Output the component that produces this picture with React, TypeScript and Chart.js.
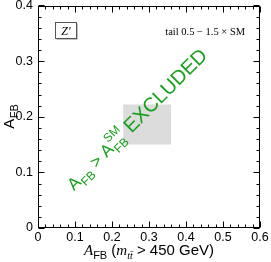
import React, { useEffect, useRef } from 'react';
import { Chart, registerables } from 'chart.js';

Chart.register(...registerables);

// ---- data ----
const xRange = [0, 0.6];
const yRange = [0, 0.4];
const xMajorTicks = [0, 0.1, 0.2, 0.3, 0.4, 0.5, 0.6];
const yMajorTicks = [0, 0.1, 0.2, 0.3, 0.4];
const minorStep = 0.02;
const boxX = [0.23, 0.36];
const boxY = [0.15, 0.222];
const pointX = [0.295];
const pointY = [0.187];
const zBoxX = [0.046, 0.103];
const zBoxY = [0.341, 0.37];
const zLabel = 'Z′';
const tailLabel = 'tail 0.5 − 1.5 × SM';
const tailPos = [0.344, 0.352];
const greenAnchor = [0.097, 0.066];
const greenColor = '#17a01b';
const boxColor = '#dcdcdc';

const SANS = '"Liberation Sans", Arial, Helvetica, sans-serif';
const SERIF = '"Liberation Serif", "Times New Roman", serif';

function fmt(v: number) {
  const r = Math.round(v * 10) / 10;
  return r === 0 ? '0' : r.toFixed(1);
}

const decorPlugin = {
  id: 'decor',
  afterDatasetsDraw(chart: any) {
    const { ctx, chartArea: a, scales } = chart;
    const xs = scales.x;
    const ys = scales.y;
    ctx.save();
    // frame
    ctx.strokeStyle = '#000';
    ctx.lineWidth = 1;
    const L = Math.round(a.left) + 0.5;
    const R = Math.round(a.right) - 0.5;
    const T = Math.round(a.top) + 0.5;
    const B = Math.round(a.bottom) - 0.5;
    ctx.strokeRect(L, T, R - L, B - T);
    // ticks
    const major = 6;
    const minor = 3;
    ctx.beginPath();
    for (let v = xRange[0]; v <= xRange[1] + 1e-9; v += minorStep) {
      const isMajor = xMajorTicks.some((m) => Math.abs(m - v) < 1e-6);
      const len = isMajor ? major : minor;
      const px = Math.round(xs.getPixelForValue(v)) + 0.5;
      ctx.moveTo(px, B);
      ctx.lineTo(px, B - len);
      ctx.moveTo(px, T);
      ctx.lineTo(px, T + len);
    }
    for (let v = yRange[0]; v <= yRange[1] + 1e-9; v += minorStep) {
      const isMajor = yMajorTicks.some((m) => Math.abs(m - v) < 1e-6);
      const len = isMajor ? major : minor;
      const py = Math.round(ys.getPixelForValue(v)) + 0.5;
      ctx.moveTo(L, py);
      ctx.lineTo(L + len, py);
      ctx.moveTo(R, py);
      ctx.lineTo(R - len, py);
    }
    ctx.stroke();

    // Z' box
    const bx0 = Math.round(xs.getPixelForValue(zBoxX[0])) + 0.5;
    const bx1 = Math.round(xs.getPixelForValue(zBoxX[1])) + 0.5;
    const by0 = Math.round(ys.getPixelForValue(zBoxY[1])) + 0.5;
    const by1 = Math.round(ys.getPixelForValue(zBoxY[0])) + 0.5;
    ctx.fillStyle = '#888';
    ctx.fillRect(bx0 + 1, by0 + 1, bx1 - bx0, by1 - by0);
    ctx.fillStyle = '#fff';
    ctx.fillRect(bx0, by0, bx1 - bx0, by1 - by0);
    ctx.strokeStyle = '#555';
    ctx.strokeRect(bx0, by0, bx1 - bx0, by1 - by0);
    ctx.fillStyle = '#000';
    ctx.font = `italic 12px ${SERIF}`;
    ctx.textAlign = 'center';
    ctx.textBaseline = 'middle';
    ctx.fillText(zLabel, (bx0 + bx1) / 2, (by0 + by1) / 2 + 1);

    // tail label
    ctx.font = `10.5px ${SERIF}`;
    ctx.textAlign = 'left';
    ctx.textBaseline = 'middle';
    ctx.fillText(tailLabel, xs.getPixelForValue(tailPos[0]), ys.getPixelForValue(tailPos[1]));

    // green rotated text
    ctx.save();
    ctx.translate(xs.getPixelForValue(greenAnchor[0]), ys.getPixelForValue(greenAnchor[1]));
    ctx.rotate(-Math.PI / 4);
    ctx.fillStyle = greenColor;
    ctx.textAlign = 'left';
    ctx.textBaseline = 'alphabetic';
    let x = 0;
    const big = `17px ${SANS}`;
    const small = `12px ${SANS}`;
    ctx.font = big;
    ctx.fillText('A', x, 0);
    x += ctx.measureText('A').width + 0.5;
    ctx.font = small;
    ctx.fillText('FB', x, 5);
    x += ctx.measureText('FB').width;
    ctx.font = big;
    ctx.fillText(' > ', x, 0);
    x += ctx.measureText(' > ').width;
    ctx.fillText('A', x, 0);
    x += ctx.measureText('A').width + 0.5;
    ctx.font = small;
    ctx.fillText('FB', x, 5);
    ctx.fillText('SM', x, -10);
    x += Math.max(ctx.measureText('FB').width, ctx.measureText('SM').width);
    ctx.font = `20px ${SANS}`;
    x += 5;
    ctx.fillText('EXCLUDED', x, 0);
    ctx.restore();

    // x-axis title
    ctx.fillStyle = '#000';
    ctx.textBaseline = 'alphabetic';
    ctx.textAlign = 'left';
    const parts: [string, string, number][] = [
      ['A', `italic 15px ${SERIF}`, 0],
      ['FB', `11px ${SANS}`, 4],
      [' (', `15px ${SANS}`, 0],
      ['m', `italic 15px ${SERIF}`, 0],
      ['tt̄', `italic 10px ${SERIF}`, 4],
      [' > 450 GeV)', `15px ${SANS}`, 0],
    ];
    let total = 0;
    for (const [t, f] of parts) {
      ctx.font = f;
      total += ctx.measureText(t).width;
    }
    let cx = (a.left + a.right) / 2 - total / 2;
    const baseY = a.bottom + 27;
    for (const [t, f, dy] of parts) {
      ctx.font = f;
      ctx.fillText(t, cx, baseY + dy);
      cx += ctx.measureText(t).width;
    }

    // y-axis title
    ctx.save();
    ctx.translate(a.left - 24, a.top + (a.bottom - a.top) * 0.5);
    ctx.rotate(-Math.PI / 2);
    ctx.textAlign = 'left';
    ctx.font = `15px ${SANS}`;
    const aw = ctx.measureText('A').width;
    ctx.font = `11px ${SANS}`;
    const fw = ctx.measureText('FB').width;
    let yx = -(aw + fw) / 2;
    ctx.font = `15px ${SANS}`;
    ctx.fillText('A', yx, 0);
    yx += aw + 0.5;
    ctx.font = `11px ${SANS}`;
    ctx.fillText('FB', yx, 4);
    ctx.restore();

    ctx.restore();
  },
};

export default function App() {
  const ref = useRef<HTMLCanvasElement | null>(null);
  useEffect(() => {
    document.body.style.margin = '0';
    const canvas = ref.current!;
    const chart = new Chart(canvas, {
      type: 'line',
      data: {
        datasets: [
          {
            data: [
              { x: boxX[0], y: boxY[1] },
              { x: boxX[1], y: boxY[1] },
            ],
            borderWidth: 0,
            borderColor: 'rgba(0,0,0,0)',
            pointRadius: 0,
            backgroundColor: boxColor,
            fill: '+1',
          },
          {
            data: [
              { x: boxX[0], y: boxY[0] },
              { x: boxX[1], y: boxY[0] },
            ],
            borderWidth: 0,
            borderColor: 'rgba(0,0,0,0)',
            pointRadius: 0,
            fill: false,
          },
          {
            data: pointX.map((x, i) => ({ x, y: pointY[i] })),
            showLine: false,
            pointStyle: 'cross',
            pointRadius: 4,
            borderColor: '#000',
            borderWidth: 1.5,
            fill: false,
          },
        ],
      },
      options: {
        animation: false,
        responsive: false,
        devicePixelRatio: 1,
        layout: { padding: { top: 5, right: 11, left: 0, bottom: 0 } },
        plugins: { legend: { display: false }, tooltip: { enabled: false } },
        scales: {
          x: {
            type: 'linear',
            min: xRange[0],
            max: xRange[1],
            afterBuildTicks: (s: any) => {
              s.ticks = xMajorTicks.map((value) => ({ value }));
            },
            afterFit: (s: any) => {
              s.height = 34;
              s.paddingLeft = 0;
              s.paddingRight = 0;
            },
            ticks: {
              callback: (v: any) => fmt(Number(v)),
              font: { family: SANS, size: 12.5 },
              color: '#000',
              padding: 2,
              maxRotation: 0,
              autoSkip: false,
            },
            grid: { display: false, drawTicks: false, tickLength: 0 },
            border: { display: false },
          },
          y: {
            type: 'linear',
            min: yRange[0],
            max: yRange[1],
            afterBuildTicks: (s: any) => {
              s.ticks = yMajorTicks.map((value) => ({ value }));
            },
            afterFit: (s: any) => {
              s.width = 38;
              s.paddingTop = 0;
              s.paddingBottom = 0;
            },
            ticks: {
              callback: (v: any) => fmt(Number(v)),
              font: { family: SANS, size: 12.5 },
              color: '#000',
              padding: 5,
              autoSkip: false,
            },
            grid: { display: false, drawTicks: false, tickLength: 0 },
            border: { display: false },
          },
        },
      },
      plugins: [decorPlugin],
    });
    return () => chart.destroy();
  }, []);
  return (
    <div style={{ position: 'absolute', left: 0, top: 0, width: 271, height: 262, background: '#fff' }}>
      <canvas ref={ref} width={271} height={262} style={{ width: 271, height: 262, display: 'block' }} />
    </div>
  );
}
